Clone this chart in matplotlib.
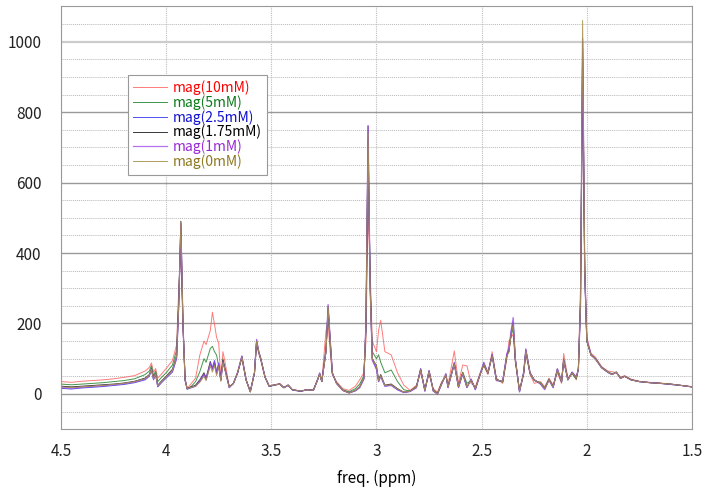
import matplotlib
matplotlib.use("Agg")
import matplotlib.pyplot as plt
from matplotlib.ticker import MultipleLocator

plt.rcParams['font.family'] = ['Noto Sans CJK JP', 'DejaVu Sans']

# chemical shift grid (ppm)
ppm = [4.50, 4.45, 4.40, 4.35, 4.30, 4.25, 4.20, 4.15, 4.10, 4.08,
       4.07, 4.06, 4.05, 4.04, 4.02, 4.00, 3.97, 3.95, 3.94, 3.93,
       3.92, 3.91, 3.90, 3.88, 3.86, 3.84, 3.82, 3.81, 3.79, 3.78,
       3.77, 3.76, 3.75, 3.74, 3.73, 3.72, 3.70, 3.68, 3.66, 3.64,
       3.62, 3.60, 3.58, 3.57, 3.56, 3.55, 3.53, 3.51, 3.49, 3.46,
       3.44, 3.42, 3.40, 3.36, 3.33, 3.30, 3.28, 3.27, 3.26, 3.24,
       3.23, 3.22, 3.21, 3.19, 3.16, 3.13, 3.10, 3.08, 3.06, 3.05,
       3.04, 3.03, 3.02, 3.00, 2.99, 2.98, 2.96, 2.93, 2.90, 2.87,
       2.84, 2.81, 2.79, 2.77, 2.75, 2.73, 2.71, 2.69, 2.67, 2.66,
       2.63, 2.61, 2.59, 2.57, 2.55, 2.53, 2.51, 2.49, 2.47, 2.45,
       2.43, 2.40, 2.38, 2.37, 2.36, 2.35, 2.34, 2.32, 2.30, 2.29,
       2.27, 2.25, 2.22, 2.20, 2.18, 2.16, 2.14, 2.12, 2.11, 2.09,
       2.07, 2.05, 2.04, 2.03, 2.02, 2.01, 2.00, 1.98, 1.96, 1.93,
       1.90, 1.88, 1.86, 1.84, 1.82, 1.79, 1.75, 1.70, 1.65, 1.60,
       1.55, 1.50]

mag_10mM = [35, 33, 36, 38, 40, 43, 47, 52, 65, 75,
            88, 62, 72, 45, 58, 72, 95, 140, 300, 400,
            190, 45, 15, 30, 45, 110, 150, 140, 180, 232,
            197, 160, 144, 44, 120, 90, 20, 30, 62, 100,
            40, 8, 60, 140, 115, 95, 48, 22, 25, 30,
            18, 24, 12, 8, 12, 12, 42, 55, 35, 180,
            200, 120, 55, 35, 15, 10, 22, 40, 60, 150,
            520, 350, 150, 120, 180, 209, 120, 111, 60, 25,
            10, 25, 60, 15, 55, 15, 5, 35, 50, 25,
            122, 30, 82, 80, 30, 20, 55, 80, 55, 120,
            45, 30, 100, 150, 160, 170, 90, 10, 55, 115,
            55, 30, 35, 20, 45, 25, 60, 30, 115, 45,
            60, 40, 80, 300, 850, 380, 160, 115, 105, 78,
            65, 63, 60, 48, 52, 42, 36, 33, 31, 28,
            24, 21]

mag_5mM = [28, 26, 28, 30, 32, 35, 38, 43, 55, 65,
           80, 52, 65, 35, 48, 60, 82, 125, 280, 460,
           200, 42, 14, 22, 35, 63, 100, 90, 129, 135,
           120, 110, 77, 40, 100, 72, 20, 30, 60, 105,
           40, 7, 60, 148, 118, 98, 48, 22, 25, 28,
           18, 25, 12, 8, 12, 11, 40, 56, 35, 130,
           235, 140, 58, 32, 12, 6, 15, 28, 52, 180,
           680, 320, 120, 100, 111, 90, 60, 68, 35, 12,
           8, 22, 68, 12, 62, 12, 2, 32, 52, 22,
           90, 22, 62, 30, 38, 15, 52, 82, 58, 112,
           42, 33, 108, 130, 165, 185, 95, 8, 58, 120,
           58, 38, 32, 17, 42, 22, 66, 33, 100, 42,
           58, 42, 72, 270, 950, 360, 152, 112, 102, 76,
           63, 57, 61, 46, 50, 41, 35, 32, 30, 27,
           24, 20]

mag_2p5mM = [16, 14, 17, 19, 21, 24, 27, 32, 40, 50,
             68, 40, 55, 20, 33, 45, 62, 100, 250, 480,
             195, 38, 14, 18, 22, 35, 55, 40, 85, 75,
             95, 60, 88, 40, 90, 68, 18, 30, 60, 106,
             40, 6, 60, 152, 120, 100, 48, 21, 24, 28,
             17, 25, 11, 7, 12, 10, 40, 58, 36, 120,
             250, 152, 60, 30, 10, 3, 9, 18, 42, 190,
             720, 310, 100, 70, 35, 50, 22, 25, 12, 4,
             7, 18, 72, 8, 66, 8, 0, 28, 56, 18,
             85, 18, 58, 18, 42, 12, 50, 88, 60, 108,
             38, 36, 112, 125, 175, 205, 100, 6, 62, 125,
             60, 40, 28, 14, 40, 18, 70, 35, 95, 40,
             62, 48, 70, 260, 980, 340, 150, 110, 100, 74,
             61, 55, 62, 44, 50, 40, 35, 32, 30, 27,
             24, 20]

mag_1p75mM = [22, 20, 22, 24, 26, 28, 31, 36, 45, 55,
              72, 45, 58, 25, 38, 50, 70, 110, 260, 490,
              200, 40, 15, 20, 25, 40, 60, 45, 92, 70,
              88, 60, 82, 40, 95, 70, 20, 30, 60, 106,
              40, 6, 60, 150, 120, 100, 48, 22, 25, 28,
              18, 25, 12, 8, 12, 10, 40, 58, 35, 120,
              245, 150, 60, 30, 10, 3, 10, 20, 45, 200,
              760, 300, 100, 80, 40, 55, 25, 28, 15, 5,
              8, 20, 70, 10, 65, 10, 0, 30, 55, 20,
              85, 20, 60, 20, 40, 15, 50, 85, 60, 110,
              40, 35, 110, 120, 170, 200, 100, 8, 60, 125,
              60, 40, 30, 15, 40, 20, 70, 35, 95, 40,
              60, 45, 70, 250, 1000, 350, 150, 110, 100, 75,
              62, 55, 62, 45, 50, 40, 35, 32, 30, 28,
              24, 20]

mag_1mM = [18, 16, 19, 21, 23, 26, 29, 34, 42, 52,
           70, 42, 56, 22, 35, 47, 65, 105, 255, 485,
           200, 40, 14, 18, 22, 36, 56, 42, 88, 72,
           92, 58, 85, 38, 92, 70, 18, 30, 62, 108,
           40, 6, 60, 155, 122, 100, 48, 22, 25, 28,
           18, 25, 12, 8, 12, 10, 40, 60, 36, 125,
           254, 155, 60, 30, 10, 3, 9, 18, 42, 200,
           762, 300, 95, 70, 35, 50, 22, 24, 12, 4,
           7, 18, 70, 8, 66, 8, 0, 28, 58, 18,
           88, 18, 58, 18, 42, 12, 52, 90, 60, 112,
           38, 36, 115, 130, 180, 217, 100, 6, 62, 128,
           60, 40, 28, 12, 40, 18, 72, 35, 95, 40,
           62, 48, 70, 250, 1010, 350, 155, 112, 100, 75,
           62, 55, 62, 44, 50, 40, 35, 32, 30, 27,
           24, 20]

mag_0mM = [20, 18, 20, 22, 24, 27, 30, 35, 43, 53,
           70, 43, 57, 23, 36, 48, 67, 108, 258, 488,
           198, 40, 15, 19, 22, 33, 50, 38, 80, 62,
           80, 52, 78, 36, 90, 66, 19, 30, 60, 105,
           40, 6, 60, 150, 120, 100, 48, 22, 25, 28,
           18, 25, 12, 8, 12, 10, 40, 57, 35, 118,
           248, 150, 60, 30, 10, 3, 10, 20, 45, 195,
           740, 300, 100, 78, 38, 52, 24, 26, 14, 5,
           8, 20, 68, 10, 64, 10, 0, 30, 55, 20,
           84, 20, 60, 20, 40, 15, 50, 84, 60, 108,
           40, 35, 108, 120, 168, 198, 100, 8, 60, 122,
           60, 40, 30, 15, 40, 20, 68, 35, 95, 40,
           60, 45, 72, 260, 1060, 350, 150, 110, 100, 75,
           62, 55, 62, 45, 50, 40, 35, 32, 30, 28,
           24, 20]

series = [
    ("mag(10mM)", mag_10mM, "#ff5a5a", "#ff0000", 0.7, 0.8),
    ("mag(5mM)", mag_5mM, "#2f8a3a", "#0a7a1a", 0.7, 0.9),
    ("mag(2.5mM)", mag_2p5mM, "#3b3bf0", "#1010d0", 0.7, 0.9),
    ("mag(1.75mM)", mag_1p75mM, "#222222", "#000000", 0.7, 0.9),
    ("mag(1mM)", mag_1mM, "#a050e8", "#9a28d8", 0.9, 0.8),
    ("mag(0mM)", mag_0mM, "#a89050", "#8c7820", 0.7, 0.9),
]

fig = plt.figure(figsize=(7.09, 4.95), dpi=100)
ax = fig.add_axes([0.086, 0.133, 0.89, 0.854])

for label, vals, color, _, lw, alpha in series:
    ax.plot(ppm, vals, color=color, lw=lw, alpha=alpha, label=label)

ax.set_xlim(4.5, 1.5)
ax.set_ylim(-100, 1100)
ax.yaxis.set_major_locator(MultipleLocator(200))
ax.yaxis.set_minor_locator(MultipleLocator(50))
ax.set_xticks([4.5, 4, 3.5, 3, 2.5, 2, 1.5])
ax.set_xticklabels(["4.5", "4", "3.5", "3", "2.5", "2", "1.5"])

ax.grid(True, which="major", axis="y", color="#999999", lw=1.0)
ax.grid(True, which="minor", axis="y", color="#b8b8b8", lw=0.7, ls=(0, (1, 1)))
ax.grid(True, which="major", axis="x", color="#bdbdbd", lw=0.8, ls=(0, (1, 1)))
ax.set_axisbelow(True)
# the 1000 line is drawn lighter in the original
for val, gl in zip(ax.get_yticks(), ax.get_ygridlines()):
    if val == 1000:
        gl.set_color("#cccccc")
        gl.set_linewidth(1.6)
ax.tick_params(which="both", length=0, labelsize=11, colors="#222222")
ax.tick_params(axis="x", pad=10)
ax.tick_params(axis="y", pad=14)
for sp in ax.spines.values():
    sp.set_color("#999999")

ax.set_xlabel("freq. (ppm)", fontsize=11, labelpad=7)

leg = ax.legend(loc="upper left", bbox_to_anchor=(0.106, 0.838), fontsize=10,
                frameon=True, fancybox=False, framealpha=1, edgecolor="#999999",
                labelspacing=0.0, handlelength=2.4, handletextpad=0.4,
                borderpad=0.4, borderaxespad=0)
leg.get_frame().set_linewidth(0.8)
for txt, s in zip(leg.get_texts(), series):
    txt.set_color(s[3])

fig.savefig("out.png", dpi=100)
